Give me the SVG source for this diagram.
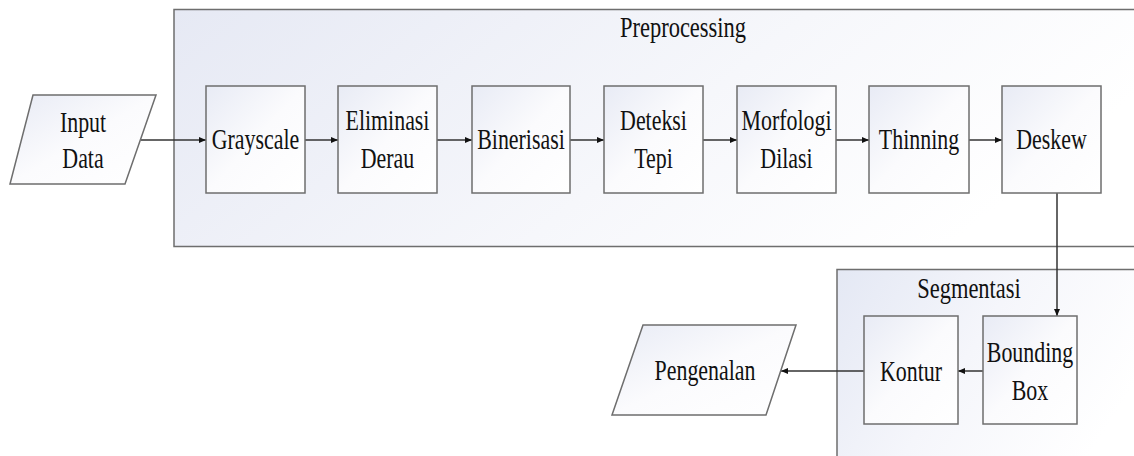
<svg xmlns="http://www.w3.org/2000/svg" width="1134" height="456" viewBox="0 0 1134 456">
<defs>
<linearGradient id="gCont" x1="0" y1="0" x2="1" y2="0.3">
<stop offset="0" stop-color="#e6e9f4"/>
<stop offset="0.6" stop-color="#f6f7fb"/>
<stop offset="1" stop-color="#ffffff"/>
</linearGradient>
<linearGradient id="gSeg" x1="0" y1="0" x2="1" y2="0.4">
<stop offset="0" stop-color="#e4e8f4"/>
<stop offset="0.5" stop-color="#f5f6fb"/>
<stop offset="1" stop-color="#ffffff"/>
</linearGradient>
<linearGradient id="gBox" x1="0" y1="0" x2="1" y2="1">
<stop offset="0" stop-color="#e8ebf5"/>
<stop offset="0.5" stop-color="#fbfbfd"/>
<stop offset="1" stop-color="#ffffff"/>
</linearGradient>
<marker id="arr" markerWidth="8" markerHeight="8" refX="7" refY="4" orient="auto" markerUnits="userSpaceOnUse">
<path d="M0,1 L7,4 L0,7 Z" fill="#111"/>
</marker>
</defs>
<style>
.cont{stroke:#6e6e6e;stroke-width:1.5}
.box{fill:url(#gBox);stroke:#6e6e6e;stroke-width:1.5}
.io{fill:url(#gBox);stroke:#6e6e6e;stroke-width:1.5}
.lbl{font-size:30px;fill:#111;text-anchor:middle}
.con{fill:none;stroke:#333;stroke-width:1.5;marker-end:url(#arr)}
</style>
<rect x="0" y="0" width="1134" height="456" fill="#ffffff"/>
<g font-family="Liberation Serif, serif">
<g id="preprocessing">
<rect class="cont" x="174" y="9.5" width="980" height="237" fill="url(#gCont)"/>
<text class="lbl" transform="translate(683,36.5) scale(0.75,1)">Preprocessing</text>
</g>
<g id="segmentasi">
<rect class="cont" x="837" y="269.5" width="320" height="200" fill="url(#gSeg)"/>
<text class="lbl" transform="translate(969,298) scale(0.75,1)">Segmentasi</text>
</g>

<g id="connectors">
<line class="con" x1="141" y1="140" x2="206" y2="140"/>
<line class="con" x1="305" y1="140" x2="338" y2="140"/>
<line class="con" x1="437" y1="140" x2="472" y2="140"/>
<line class="con" x1="570" y1="140" x2="604" y2="140"/>
<line class="con" x1="703" y1="140" x2="737" y2="140"/>
<line class="con" x1="836" y1="140" x2="869" y2="140"/>
<line class="con" x1="969" y1="140" x2="1002" y2="140"/>
<line class="con" x1="1057" y1="193" x2="1057" y2="316"/>
<line class="con" x1="983" y1="371" x2="958" y2="371"/>
<line class="con" x1="864" y1="371" x2="781" y2="371"/>
</g>

<g id="input-data">
<polygon class="io" points="33,95 156,95 125,184 10,184"/>
<text class="lbl" transform="translate(83,132) scale(0.73,1)">Input</text>
<text class="lbl" transform="translate(83,168) scale(0.73,1)">Data</text>
</g>
<g id="grayscale">
<rect class="box" x="206" y="86" width="99" height="107"/>
<text class="lbl" transform="translate(255.5,148.5) scale(0.73,1)">Grayscale</text>
</g>
<g id="eliminasi-derau">
<rect class="box" x="338" y="86" width="99" height="107"/>
<text class="lbl" transform="translate(387.5,130) scale(0.73,1)">Eliminasi</text>
<text class="lbl" transform="translate(387.5,167.5) scale(0.73,1)">Derau</text>
</g>
<g id="binerisasi">
<rect class="box" x="472" y="86" width="98" height="107"/>
<text class="lbl" transform="translate(521,148.5) scale(0.73,1)">Binerisasi</text>
</g>
<g id="deteksi-tepi">
<rect class="box" x="604" y="86" width="99" height="107"/>
<text class="lbl" transform="translate(653.5,130) scale(0.73,1)">Deteksi</text>
<text class="lbl" transform="translate(653.5,167.5) scale(0.73,1)">Tepi</text>
</g>
<g id="morfologi-dilasi">
<rect class="box" x="737" y="86" width="99" height="107"/>
<text class="lbl" transform="translate(786.5,130) scale(0.73,1)">Morfologi</text>
<text class="lbl" transform="translate(786.5,167.5) scale(0.73,1)">Dilasi</text>
</g>
<g id="thinning">
<rect class="box" x="869" y="86" width="100" height="107"/>
<text class="lbl" transform="translate(919,148.5) scale(0.73,1)">Thinning</text>
</g>
<g id="deskew">
<rect class="box" x="1002" y="86" width="99" height="107"/>
<text class="lbl" transform="translate(1051.5,148.5) scale(0.73,1)">Deskew</text>
</g>
<g id="bounding-box">
<rect class="box" x="983" y="316" width="94" height="108"/>
<text class="lbl" transform="translate(1030,362) scale(0.73,1)">Bounding</text>
<text class="lbl" transform="translate(1030,400) scale(0.73,1)">Box</text>
</g>
<g id="kontur">
<rect class="box" x="864" y="316" width="94" height="108"/>
<text class="lbl" transform="translate(911,381) scale(0.73,1)">Kontur</text>
</g>
<g id="pengenalan">
<polygon class="io" points="643,325 796,325 766,415 612,415"/>
<text class="lbl" transform="translate(705,380) scale(0.73,1)">Pengenalan</text>
</g>
</g>
</svg>
